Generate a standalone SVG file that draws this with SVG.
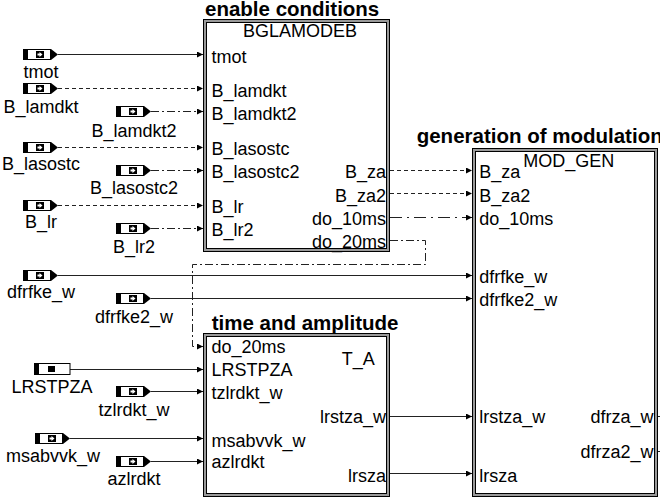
<svg xmlns="http://www.w3.org/2000/svg" xmlns:xlink="http://www.w3.org/1999/xlink" width="660" height="498" viewBox="0 0 660 498">
<style>
text{font-family:"Liberation Sans",Arial,sans-serif;font-size:18px;fill:#000}
.t{font-weight:bold;font-size:20.5px}
.r{text-anchor:end}
.m{text-anchor:middle}
.frame{fill:#9a9a9a;stroke:#000;stroke-width:1}
.inner{fill:#fff;stroke:#000;stroke-width:1}
.c{fill:none;stroke:#222;stroke-width:1;marker-end:url(#ah)}
.e{fill:none;stroke:#222;stroke-width:1}
.d{stroke-dasharray:4 3}
.dd{stroke-dasharray:8 3 2 3}
.ld{stroke-dasharray:12 5 2 5}
</style>
<defs>
<marker id="ah" markerUnits="userSpaceOnUse" markerWidth="7" markerHeight="7" refX="6" refY="3" orient="auto">
<path d="M0,0 L6,3 L0,6 z" fill="#000"/>
</marker>
<g id="inport">
<rect x="0.5" y="0.5" width="27" height="10" fill="#fff" stroke="#000"/>
<rect x="0" y="0" width="5" height="11" fill="#000"/>
<rect x="13" y="2" width="8" height="7" fill="#000"/>
<polygon points="14.5,4.5 16.5,4.5 16.5,3 19.5,5.5 16.5,8 16.5,6.5 14.5,6.5" fill="#fff"/>
<polygon points="27,0 28,0 35,5.5 28,11 27,11" fill="#000"/>
</g>
</defs>
<rect width="660" height="498" fill="#fff"/>

<g id="connectors">
<path class="c" d="M58,54.5 H203"/>
<path class="c d" d="M58,88.5 H203"/>
<path class="c dd" d="M151,111.5 H203"/>
<path class="c d" d="M58,147.5 H203"/>
<path class="c dd" d="M151,170.5 H203"/>
<path class="c d" d="M58,205.5 H203"/>
<path class="c dd" d="M151,228.5 H203"/>
<path class="c d" d="M390,170.5 H472"/>
<path class="c d" d="M390,193.5 H472"/>
<path class="c ld" d="M390,217.5 H472"/>
<path class="c dd" d="M390,240.5 H425.5 V264.5 H192.5 V346.5 H203"/>
<path class="c" d="M58,275.5 H472"/>
<path class="c" d="M151,298.5 H472"/>
<path class="c" d="M70,369.5 H203"/>
<path class="c" d="M151,391.5 H203"/>
<path class="c" d="M70,438.5 H203"/>
<path class="c" d="M151,461.5 H203"/>
<path class="c" d="M390,416.5 H472"/>
<path class="c" d="M390,473.5 H472"/>
<path class="e" d="M658,416.5 H660"/>
<path class="e" d="M658,451.5 H660"/>
</g>

<g id="in_tmot"><use xlink:href="#inport" x="23" y="49"/><text class="m" x="41" y="77.7">tmot</text></g>
<g id="in_B_lamdkt"><use xlink:href="#inport" x="23" y="83"/><text class="m" x="41" y="112.7">B_lamdkt</text></g>
<g id="in_B_lamdkt2"><use xlink:href="#inport" x="116" y="106"/><text class="m" x="134" y="136.7">B_lamdkt2</text></g>
<g id="in_B_lasostc"><use xlink:href="#inport" x="23" y="142"/><text class="m" x="41" y="170">B_lasostc</text></g>
<g id="in_B_lasostc2"><use xlink:href="#inport" x="116" y="165"/><text class="m" x="134" y="194">B_lasostc2</text></g>
<g id="in_B_lr"><use xlink:href="#inport" x="23" y="200"/><text class="m" x="41" y="228">B_lr</text></g>
<g id="in_B_lr2"><use xlink:href="#inport" x="116" y="223"/><text class="m" x="134" y="252.5">B_lr2</text></g>
<g id="in_dfrfke_w"><use xlink:href="#inport" x="23" y="270"/><text class="m" x="41" y="298.3">dfrfke_w</text></g>
<g id="in_dfrfke2_w"><use xlink:href="#inport" x="116" y="293"/><text class="m" x="134" y="322.7">dfrfke2_w</text></g>
<g id="in_LRSTPZA">
<rect x="34.5" y="363.5" width="35.5" height="11" fill="#fff" stroke="#000"/>
<rect x="34" y="363" width="5" height="12" fill="#000"/>
<rect x="48" y="366" width="7" height="6" fill="#000"/>
<text class="m" x="52" y="392.7">LRSTPZA</text>
</g>
<g id="in_tzlrdkt_w"><use xlink:href="#inport" x="116" y="386"/><text class="m" x="134" y="416">tzlrdkt_w</text></g>
<g id="in_msabvvk_w"><use xlink:href="#inport" x="35" y="433"/><text class="m" x="53" y="461.7">msabvvk_w</text></g>
<g id="in_azlrdkt"><use xlink:href="#inport" x="116" y="456"/><text class="m" x="134" y="485">azlrdkt</text></g>

<g id="BGLAMODEB">
<text class="t" x="205" y="16">enable conditions</text>
<rect class="frame" x="203.5" y="19.5" width="186" height="232"/>
<rect class="inner" x="206.5" y="22.5" width="180" height="226"/>
<text x="243" y="37.3">BGLAMODEB</text>
<text x="211.5" y="62.5">tmot</text>
<text x="211.5" y="96.5">B_lamdkt</text>
<text x="211.5" y="119.7">B_lamdkt2</text>
<text x="211.5" y="155">B_lasostc</text>
<text x="211.5" y="178.2">B_lasostc2</text>
<text x="211.5" y="212.7">B_lr</text>
<text x="211.5" y="235.5">B_lr2</text>
<text class="r" x="386" y="178">B_za</text>
<text class="r" x="386" y="201.5">B_za2</text>
<text class="r" x="386" y="224.5">do_10ms</text>
<text class="r" x="386" y="247.7">do_20ms</text>
</g>

<g id="MOD_GEN">
<text class="t" x="416.7" y="143.3">generation of modulation</text>
<rect class="frame" x="472.5" y="148.5" width="185" height="348"/>
<rect class="inner" x="475.5" y="151.5" width="179" height="342"/>
<text x="523.3" y="167.3">MOD_GEN</text>
<text x="479.3" y="178.3">B_za</text>
<text x="479.3" y="201.7">B_za2</text>
<text x="479.3" y="225">do_10ms</text>
<text x="479.3" y="282.5">dfrfke_w</text>
<text x="479.3" y="305.5">dfrfke2_w</text>
<text x="479.3" y="423.3">lrstza_w</text>
<text x="479.3" y="481.7">lrsza</text>
<text class="r" x="653.5" y="423.3">dfrza_w</text>
<text class="r" x="653.5" y="458.3">dfrza2_w</text>
</g>

<g id="T_A">
<text class="t" x="211.7" y="330">time and amplitude</text>
<rect class="frame" x="203.5" y="333.5" width="186" height="163"/>
<rect class="inner" x="206.5" y="336.5" width="180" height="157"/>
<text x="341.7" y="365">T_A</text>
<text x="211.5" y="353.3">do_20ms</text>
<text x="211.5" y="376">LRSTPZA</text>
<text x="211.5" y="399.3">tzlrdkt_w</text>
<text x="211.5" y="446.7">msabvvk_w</text>
<text x="211.5" y="468.3">azlrdkt</text>
<text class="r" x="386" y="423.3">lrstza_w</text>
<text class="r" x="386" y="481.7">lrsza</text>
</g>
</svg>
